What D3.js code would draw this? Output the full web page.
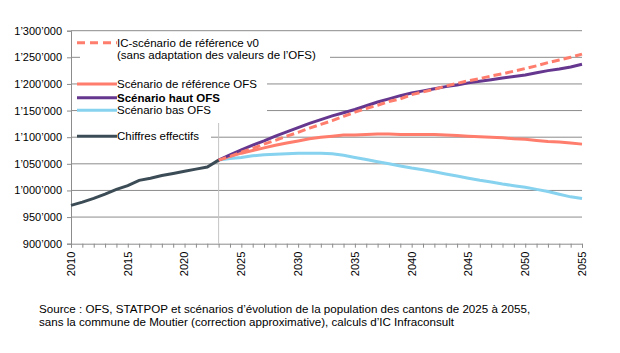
<!DOCTYPE html>
<html>
<head>
<meta charset="utf-8">
<script src="https://cdn.jsdelivr.net/npm/d3@7"></script>
<style>
  body { margin: 0; background: #fff; }
  text { font-family: "Liberation Sans", Arial, sans-serif; fill: #000; }
</style>
</head>
<body>
<script>
// historical data
var histYears = [2010, 2011, 2012, 2013, 2014, 2015, 2016, 2017, 2018, 2019, 2020, 2021, 2022, 2023];
var effectifs = [972000, 978000, 985000, 993000, 1002000, 1009000, 1019000, 1023000, 1028000, 1032000, 1036000, 1040000, 1044000, 1057000];

// scenarios 2023..2055
var scenYears = d3.range(2023, 2056);
var icV0 = [1057000, 1064000, 1072000, 1079000, 1087000, 1094000, 1102000, 1109000, 1117000, 1124000,
            1131000, 1139000, 1147000, 1154000, 1160000, 1167000, 1172000, 1180000, 1185000, 1190000,
            1196000, 1201000, 1206000, 1210000, 1215000, 1219000, 1224000, 1229000, 1234000, 1240000,
            1245000, 1250000, 1256000];
var refOFS = [1057000, 1064000, 1070000, 1075000, 1080000, 1085000, 1089000, 1093000, 1097000, 1100000,
              1102000, 1104000, 1104000, 1105000, 1106000, 1106000, 1105000, 1105000, 1105000, 1105000,
              1104000, 1103000, 1102000, 1101000, 1100000, 1099000, 1097000, 1096000, 1094000, 1092000,
              1091000, 1089000, 1087000];
var hautOFS = [1057000, 1067000, 1076000, 1085000, 1093000, 1102000, 1110000, 1118000, 1126000, 1133000,
               1140000, 1146000, 1152000, 1159000, 1166000, 1172000, 1178000, 1183000, 1187000, 1191000,
               1195000, 1198000, 1202000, 1205000, 1208000, 1211000, 1214000, 1217000, 1221000, 1225000,
               1228000, 1232000, 1237000];
var basOFS = [1057000, 1060000, 1062000, 1065000, 1067000, 1068000, 1069000, 1070000, 1070000, 1070000,
              1069000, 1066000, 1062000, 1058000, 1054000, 1050000, 1046000, 1042000, 1039000, 1035000,
              1031000, 1027000, 1023000, 1019000, 1016000, 1012000, 1009000, 1006000, 1002000, 998000,
              993000, 988000, 985000];

var yTicks = [900000, 950000, 1000000, 1050000, 1100000, 1150000, 1200000, 1250000, 1300000];
var xTicks = [2010, 2015, 2020, 2025, 2030, 2035, 2040, 2045, 2050, 2055];
var splitYear = 2023;

var colors = { v0: "#ff7d6c", ref: "#ff7d6c", haut: "#65378f", bas: "#87d2ee", eff: "#3c4c56" };

var W = 620, H = 353;
var plot = { left: 71, right: 582, top: 30.7, bottom: 243.7 };

var svg = d3.select("body").append("svg").attr("width", W).attr("height", H);

var x = d3.scaleLinear().domain([2010, 2055]).range([plot.left, plot.right]);
var y = d3.scaleLinear().domain([900000, 1300000]).range([plot.bottom, plot.top]);

var fmt = function(v) { return d3.format(",")(v).replace(/,/g, "\u2019"); };

// gridlines
svg.append("g").selectAll("line").data(yTicks.slice(1)).enter().append("line")
  .attr("x1", plot.left).attr("x2", plot.right)
  .attr("y1", function(d) { return y(d); }).attr("y2", function(d) { return y(d); })
  .attr("stroke", "#8c8c8c").attr("stroke-width", 1);

// y axis
var yAxis = d3.axisLeft(y).tickValues(yTicks).tickSize(4).tickPadding(5).tickFormat(fmt);
var yg = svg.append("g").attr("transform", "translate(" + plot.left + ",0)").call(yAxis);
yg.select(".domain").attr("stroke", "#8c8c8c");
yg.selectAll(".tick line").attr("stroke", "#8c8c8c");
yg.selectAll("text").attr("font-size", "11px").attr("font-family", "Liberation Sans, Arial, sans-serif");

// x axis
var xAxis = d3.axisBottom(x).tickValues(d3.range(2010, 2056)).tickSize(4).tickFormat("");
var xg = svg.append("g").attr("transform", "translate(0," + plot.bottom + ")").call(xAxis);
xg.select(".domain").attr("stroke", "#8c8c8c");
xg.selectAll(".tick line").attr("stroke", "#8c8c8c");

svg.append("g").selectAll("text").data(xTicks).enter().append("text")
  .attr("transform", function(d) { return "translate(" + x(d) + "," + (plot.bottom + 8) + ") rotate(-90)"; })
  .attr("text-anchor", "end").attr("dy", "0.35em")
  .attr("font-size", "11px")
  .text(function(d) { return d; });

// vertical separator
svg.append("line")
  .attr("x1", x(splitYear)).attr("x2", x(splitYear))
  .attr("y1", 123).attr("y2", plot.bottom)
  .attr("stroke", "#c4c4c4").attr("stroke-width", 1);

// legend background boxes (cover gridlines)
var boxes = [[80, 34, 250, 31], [77, 75, 190, 43], [77, 128, 134, 18]];
svg.append("g").selectAll("rect").data(boxes).enter().append("rect")
  .attr("x", function(d) { return d[0]; }).attr("y", function(d) { return d[1]; })
  .attr("width", function(d) { return d[2]; }).attr("height", function(d) { return d[3]; })
  .attr("fill", "#fff");

// lines
var line = d3.line().x(function(d) { return x(d[0]); }).y(function(d) { return y(d[1]); });
function zip(a, b) { return a.map(function(v, i) { return [v, b[i]]; }); }

var series = [
  { vals: basOFS, color: colors.bas, dash: null },
  { vals: refOFS, color: colors.ref, dash: null },
  { vals: hautOFS, color: colors.haut, dash: null },
  { vals: icV0, color: colors.v0, dash: "8,4" }
];
series.forEach(function(s) {
  svg.append("path").datum(zip(scenYears, s.vals))
    .attr("d", line).attr("fill", "none")
    .attr("stroke", s.color).attr("stroke-width", 3)
    .attr("stroke-dasharray", s.dash);
});
svg.append("path").datum(zip(histYears, effectifs))
  .attr("d", line).attr("fill", "none")
  .attr("stroke", colors.eff).attr("stroke-width", 3);

// legend
var legend = [
  { y: 42.7, color: colors.v0, dash: "8,5", label: "IC-scénario de référence v0", bold: false },
  { y: 84, color: colors.ref, dash: null, label: "Scénario de référence OFS", bold: false },
  { y: 97.7, color: colors.haut, dash: null, label: "Scénario haut OFS", bold: true },
  { y: 110.3, color: colors.bas, dash: null, label: "Scénario bas OFS", bold: false },
  { y: 136.3, color: colors.eff, dash: null, label: "Chiffres effectifs", bold: false }
];
var lg = svg.append("g");
legend.forEach(function(d) {
  lg.append("line").attr("x1", 77).attr("x2", 117).attr("y1", d.y).attr("y2", d.y)
    .attr("stroke", d.color).attr("stroke-width", 3).attr("stroke-dasharray", d.dash);
  lg.append("text").attr("x", 117).attr("y", d.y).attr("dy", "0.35em")
    .attr("font-size", "11.5px").attr("font-weight", d.bold ? "bold" : "normal")
    .text(d.label);
});
lg.append("text").attr("x", 117).attr("y", 55.3).attr("dy", "0.35em")
  .attr("font-size", "11.5px").text("(sans adaptation des valeurs de l\u2019OFS)");

// source
var src = svg.append("text").attr("x", 39).attr("y", 313).attr("font-size", "11.6px");
src.append("tspan").attr("x", 39).attr("y", 313)
  .text("Source : OFS, STATPOP et scénarios d\u2019évolution de la population des cantons de 2025 à 2055,");
src.append("tspan").attr("x", 39).attr("y", 326)
  .text("sans la commune de Moutier (correction approximative), calculs d\u2019IC Infraconsult");
</script>
</body>
</html>
